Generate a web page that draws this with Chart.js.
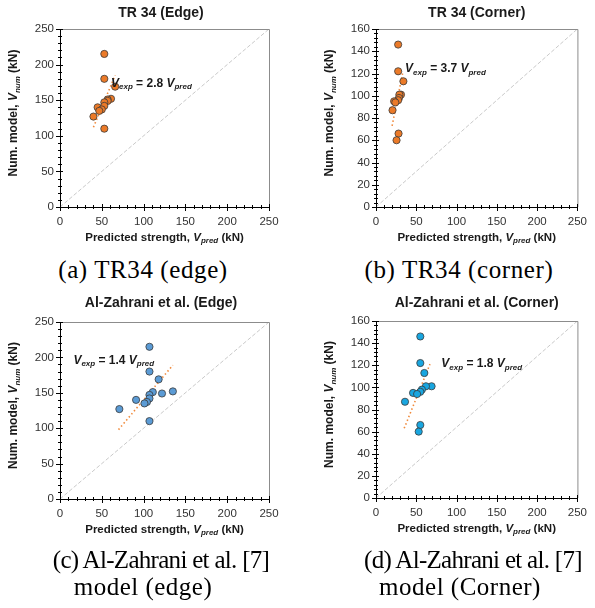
<!DOCTYPE html>
<html>
<head>
<meta charset="utf-8">
<script src="https://cdn.jsdelivr.net/npm/chart.js@4.4.1/dist/chart.umd.min.js"></script>
<style>
  body { margin: 0; background: #fff; width: 595px; height: 608px; position: relative; overflow: hidden; }
  canvas { position: absolute; }
  .cap { position: absolute; width: 300px; text-align: center; white-space: nowrap;
         font-family: "Liberation Serif", "Times New Roman", serif; font-size: 25px; line-height: 27px; color: #000; }
  .wide { letter-spacing: 0.6px; }
  .tight { letter-spacing: -0.7px; }
  .mid { letter-spacing: 0.5px; }
</style>
</head>
<body>
<canvas id="pA" width="295" height="250" style="left:0;top:0"></canvas>
<canvas id="pB" width="300" height="250" style="left:295px;top:0"></canvas>
<canvas id="pC" width="295" height="260" style="left:0;top:290px"></canvas>
<canvas id="pD" width="300" height="260" style="left:295px;top:290px"></canvas>

<div class="cap wide" style="left:-7px;top:256px">(a) TR34 (edge)</div>
<div class="cap wide" style="left:309px;top:256px">(b) TR34 (corner)</div>
<div class="cap tight" style="left:11px;top:546px">(c) Al-Zahrani et al. [7]</div>
<div class="cap mid" style="left:-7px;top:573px">model (edge)</div>
<div class="cap tight" style="left:323px;top:546px">(d) Al-Zahrani et al. [7]</div>
<div class="cap mid" style="left:310px;top:573px">model (Corner)</div>

<script>
// ---- data ----
var titles = ['TR 34 (Edge)', 'TR 34 (Corner)', 'Al-Zahrani et al. (Edge)', 'Al-Zahrani et al. (Corner)'];
var slopes = ['2.8', '3.7', '1.4', '1.8'];

// numerical model results (kN)
var edgeNum = [215, 180, 169, 152, 151, 149, 147, 142, 140, 137, 135, 127, 110];
var cornerNum = [146, 122, 113, 101, 101, 98, 96, 95, 94, 87, 66, 60];

// predicted strengths (kN)
var tr34EdgePred = [53, 53, 66, 61, 57, 57, 53, 53, 45, 50, 47, 40, 53];
var tr34CornerPred = [27.5, 27.5, 34, 31, 29, 28.5, 27.5, 22.5, 24, 20.5, 28, 25.5];
var alzEdgePred = [107, 107, 118, 135, 111, 122, 107, 107, 91, 104, 101, 71, 107];
var alzCornerPred = [55, 55, 60, 69, 62, 57, 55, 46, 51, 36, 55, 53];

// dotted fit lines (end points)
var tr34EdgeFit = [[40, 112], [66, 185]];
var tr34CornerFit = [[20, 73], [33, 120]];
var alzEdgeFit = [[70, 98], [135, 189]];
var alzCornerFit = [[35, 63], [67, 121]];

// grey dashed reference lines
var edgeRef = [[0, 0], [250, 250]];
var cornerRef = [[0, 0], [250, 160]];

// label anchors (data coords)
var labelAt = [[61, 173], [36, 124], [16, 196], [81, 121]];

// axis ticks
var xTicks = [0, 50, 100, 150, 200, 250];
var edgeTicks = [0, 50, 100, 150, 200, 250];
var cornerTicks = [0, 20, 40, 60, 80, 100, 120, 140, 160];

var SANS = '"Liberation Sans", Arial, sans-serif';

function pts(pairs) {
  return pairs.map(function(p) { return { x: p[0], y: p[1] }; });
}

function zip(xs, ys) {
  return xs.map(function(x, i) { return { x: x, y: ys[i] }; });
}

// draws a run of text pieces with mixed fonts (for subscripts)
function drawRich(ctx, parts, x, y, align) {
  var w = 0;
  parts.forEach(function(p) { ctx.font = p.f; p.w = ctx.measureText(p.t).width; w += p.w; });
  var cx = align === 'center' ? x - w / 2 : x;
  ctx.textAlign = 'left';
  ctx.textBaseline = 'middle';
  parts.forEach(function(p) {
    ctx.font = p.f;
    ctx.fillText(p.t, cx, y + (p.dy || 0));
    cx += p.w;
  });
}

function sub(base, s, size) {
  var small = Math.round(size * 0.66);
  return [
    { t: base, f: 'italic bold ' + size + 'px ' + SANS },
    { t: s, f: 'italic bold ' + small + 'px ' + SANS, dy: size * 0.28 }
  ];
}

var decor = {
  id: 'decor',
  afterDraw: function(chart) {
    var o = chart.options.plugins.decor;
    var ctx = chart.ctx, a = chart.chartArea;
    var xs = chart.scales.x, ys = chart.scales.y;
    var i, v, p;
    ctx.save();

    // grey frame on top and right
    ctx.strokeStyle = '#8c8c8c';
    ctx.lineWidth = 1;
    ctx.beginPath();
    ctx.moveTo(a.left, a.top + 0.5);
    ctx.lineTo(a.right + 0.5, a.top + 0.5);
    ctx.lineTo(a.right + 0.5, a.bottom);
    ctx.stroke();

    // tick marks, major and minor
    ctx.strokeStyle = '#000';
    ctx.beginPath();
    for (i = 0; i * o.xMinor <= xs.max; i++) {
      v = i * o.xMinor;
      p = Math.round(xs.getPixelForValue(v)) + 0.5;
      var big = v % o.xMajor === 0;
      ctx.moveTo(p, a.bottom - (big ? 3 : 2));
      ctx.lineTo(p, a.bottom + (big ? 4 : 2));
    }
    for (i = 0; i * o.yMinor <= ys.max; i++) {
      v = i * o.yMinor;
      p = Math.round(ys.getPixelForValue(v)) + 0.5;
      var bigY = v % o.yMajor === 0;
      ctx.moveTo(a.left - (bigY ? 4 : 2), p);
      ctx.lineTo(a.left + (bigY ? 3 : 2), p);
    }
    ctx.stroke();

    ctx.fillStyle = '#1a1a1a';
    // chart title
    ctx.font = 'bold 14px ' + SANS;
    ctx.textAlign = 'center';
    ctx.textBaseline = 'middle';
    ctx.fillText(o.title, (a.left + a.right) / 2 + o.titleDx, 13);

    // x axis title
    drawRich(ctx, [{ t: 'Predicted strength, ', f: 'bold 11.5px ' + SANS }]
      .concat(sub('V', 'pred', 11.5))
      .concat([{ t: ' (kN)', f: 'bold 11.5px ' + SANS }]),
      (a.left + a.right) / 2, a.bottom + 31, 'center');

    // y axis title
    ctx.save();
    ctx.translate(a.left - 46, (a.top + a.bottom) / 2 - 5);
    ctx.rotate(-Math.PI / 2);
    drawRich(ctx, [{ t: 'Num. model, ', f: 'bold 12px ' + SANS }]
      .concat(sub('V', 'num', 12))
      .concat([{ t: ' (kN)', f: 'bold 12px ' + SANS }]), 0, 0, 'center');
    ctx.restore();

    // fit label
    drawRich(ctx, sub('V', 'exp', 12)
      .concat([{ t: ' = ' + o.slope + ' ', f: 'bold 12px ' + SANS }])
      .concat(sub('V', 'pred', 12)),
      xs.getPixelForValue(o.label[0]), ys.getPixelForValue(o.label[1]), 'left');

    ctx.restore();
  }
};

function makePanel(id, cfg) {
  var yTicks = cfg.yTicks;
  var ctx = document.getElementById(id).getContext('2d');
  return new Chart(ctx, {
    type: 'scatter',
    data: {
      datasets: [
        {
          data: zip(cfg.px, cfg.py),
          backgroundColor: cfg.color,
          borderColor: '#3a3a3a',
          borderWidth: 0.8,
          pointRadius: 3.6,
          order: 0
        },
        {
          data: pts(cfg.fit),
          showLine: true,
          borderColor: '#f08a3c',
          borderWidth: 1.6,
          borderDash: [1.5, 2.5],
          pointRadius: 0,
          order: 1
        },
        {
          data: pts(cfg.ref),
          showLine: true,
          borderColor: '#c9c9c9',
          borderWidth: 1,
          borderDash: [4, 2],
          pointRadius: 0,
          order: 2
        }
      ]
    },
    options: {
      responsive: false,
      animation: false,
      events: [],
      layout: { padding: cfg.pad },
      plugins: {
        legend: { display: false },
        tooltip: { enabled: false },
        decor: {
          title: cfg.title, titleDx: cfg.titleDx, slope: cfg.slope, label: cfg.label,
          xMajor: 50, xMinor: 10, yMajor: yTicks[1] - yTicks[0], yMinor: cfg.yMinor
        }
      },
      scales: {
        x: {
          type: 'linear',
          min: xTicks[0], max: xTicks[xTicks.length - 1],
          ticks: { stepSize: xTicks[1] - xTicks[0], color: '#333', font: { family: SANS, size: 11.5 }, padding: 8 },
          grid: { drawOnChartArea: false, drawTicks: false },
          border: { color: '#000', width: 1 },
          afterFit: function(s) { s.height = cfg.xH; }
        },
        y: {
          type: 'linear',
          min: yTicks[0], max: yTicks[yTicks.length - 1],
          ticks: { stepSize: yTicks[1] - yTicks[0], color: '#333', font: { family: SANS, size: 11.5 }, padding: 6 },
          grid: { drawOnChartArea: false, drawTicks: false },
          border: { color: '#000', width: 1 },
          afterFit: function(s) { s.width = cfg.yW; }
        }
      }
    },
    plugins: [decor]
  });
}

makePanel('pA', {
  title: titles[0], titleDx: -3.5, slope: slopes[0], label: labelAt[0],
  px: tr34EdgePred, py: edgeNum, fit: tr34EdgeFit, ref: edgeRef, color: '#eb7a28',
  yTicks: edgeTicks, yMinor: 10, yW: 60, xH: 43, pad: { top: 29, right: 26, left: 0, bottom: 0 }
});
makePanel('pB', {
  title: titles[1], titleDx: 0, slope: slopes[1], label: labelAt[1],
  px: tr34CornerPred, py: cornerNum, fit: tr34CornerFit, ref: cornerRef, color: '#eb7a28',
  yTicks: cornerTicks, yMinor: 4, yW: 81, xH: 43, pad: { top: 29, right: 10, left: 0, bottom: 0 }
});
makePanel('pC', {
  title: titles[2], titleDx: -3.5, slope: slopes[2], label: labelAt[2],
  px: alzEdgePred, py: edgeNum, fit: alzEdgeFit, ref: edgeRef, color: '#5b9bd5',
  yTicks: edgeTicks, yMinor: 10, yW: 60, xH: 51, pad: { top: 32, right: 26, left: 0, bottom: 0 }
});
makePanel('pD', {
  title: titles[3], titleDx: 0, slope: slopes[3], label: labelAt[3],
  px: alzCornerPred, py: cornerNum, fit: alzCornerFit, ref: cornerRef, color: '#19a6e0',
  yTicks: cornerTicks, yMinor: 4, yW: 81, xH: 52, pad: { top: 31, right: 10, left: 0, bottom: 0 }
});
</script>
</body>
</html>
